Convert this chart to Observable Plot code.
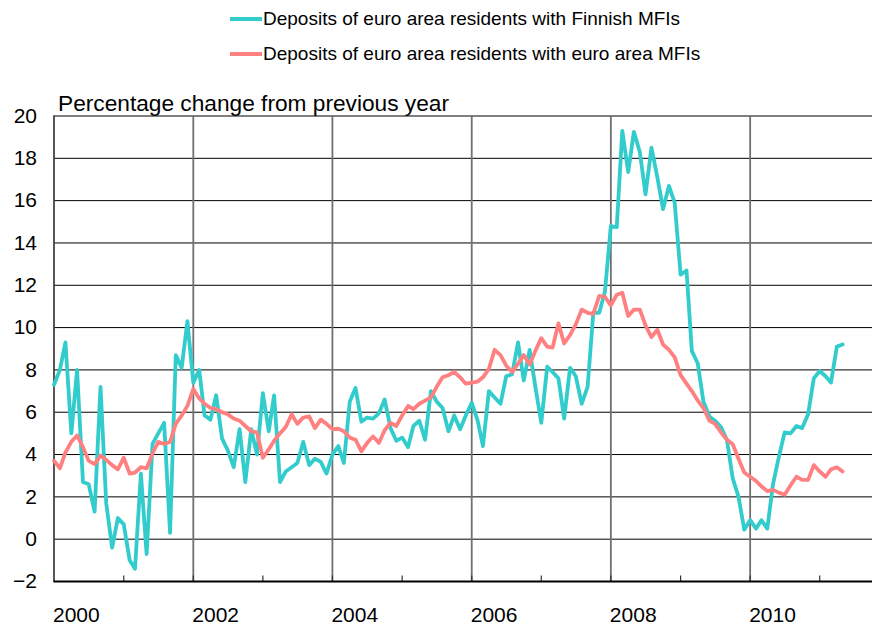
<!DOCTYPE html>
<html>
<head>
<meta charset="utf-8">
<script src="https://cdn.jsdelivr.net/npm/d3@7"></script>
<script src="https://cdn.jsdelivr.net/npm/@observablehq/plot@0.6"></script>
<style>
  body { margin: 0; background: #fff; font-family: "Liberation Sans", Arial, sans-serif; }
  #legend { position: relative; width: 872px; height: 88px; }
  .item { position: absolute; left: 230px; height: 22px; line-height: 22px; font-size: 19px; color: #000; white-space: nowrap; display: flex; align-items: center; }
  .sw { display: inline-block; width: 32px; height: 4px; margin-right: 1px; }
</style>
</head>
<body>
<div id="legend"></div>
<div id="chart"></div>
<script>
// Monthly series, starting January 2000
const seriesNames = [
  "Deposits of euro area residents with Finnish MFIs",
  "Deposits of euro area residents with euro area MFIs"
];
const seriesColors = ["#33CCCC", "#FF8080"];

const finnishMFIs = [
  7.3, 8.0, 9.3, 5.0, 8.0, 2.7, 2.6, 1.3, 7.2, 1.7, -0.4, 1.0,
  0.7, -1.0, -1.4, 3.1, -0.7, 4.5, 5.0, 5.5, 0.3, 8.7, 8.1, 10.3,
  7.4, 8.0, 5.85, 5.65, 6.8, 4.75, 4.2, 3.4, 5.2, 2.7, 5.2, 4.0,
  6.9, 5.1, 6.8, 2.7, 3.2, 3.4, 3.6, 4.6, 3.5, 3.8, 3.65, 3.1,
  4.0, 4.4, 3.6, 6.5, 7.15, 5.55, 5.75, 5.7, 5.95, 6.6, 5.25, 4.65,
  4.8, 4.35, 5.35, 5.6, 4.7, 7.0, 6.5, 6.2, 5.1, 5.85, 5.2, 5.85,
  6.45, 5.6, 4.4, 7.0, 6.7, 6.4, 7.7, 7.8, 9.3, 7.5, 8.95, 7.2,
  5.5, 8.15, 7.9, 7.6, 5.7, 8.1, 7.7, 6.4, 7.2, 10.7, 10.7, 11.7,
  14.8, 14.75, 19.3, 17.35, 19.25, 18.3, 16.3, 18.5, 17.1, 15.6, 16.7, 15.9,
  12.5, 12.7, 8.9, 8.3, 6.5, 5.8, 5.6, 5.3, 4.7, 2.9, 2.0, 0.45,
  0.9, 0.5, 0.9, 0.5, 2.6, 3.9, 5.05, 5.0, 5.35, 5.25, 5.9, 7.6,
  7.95, 7.7, 7.4, 9.1, 9.2
];

const euroAreaMFIs = [
  3.7, 3.35, 4.1, 4.6, 4.9, 4.35, 3.7, 3.55, 3.95, 3.75, 3.5, 3.3,
  3.85, 3.1, 3.15, 3.4, 3.35, 4.05, 4.6, 4.5, 4.6, 5.45, 5.85, 6.3,
  7.1, 6.65, 6.4, 6.2, 6.15, 6.0, 5.9, 5.7, 5.6, 5.35, 5.1, 5.05,
  3.85, 4.25, 4.65, 5.0, 5.3, 5.9, 5.45, 5.75, 5.8, 5.25, 5.65, 5.45,
  5.2, 5.22, 5.1, 4.8, 4.7, 4.15, 4.55, 4.85, 4.55, 5.15, 5.5, 5.35,
  5.85, 6.3, 6.15, 6.4, 6.55, 6.7, 7.2, 7.65, 7.75, 7.9, 7.65, 7.35,
  7.4, 7.45, 7.65, 8.05, 8.95, 8.7, 8.2, 7.9, 8.3, 8.7, 8.25, 8.9,
  9.5, 9.1, 9.05, 10.2, 9.25, 9.65, 10.15, 10.85, 10.7, 10.65, 11.5, 11.45,
  11.05, 11.55, 11.65, 10.55, 10.85, 10.85, 10.1, 9.55, 9.9, 9.2, 8.95, 8.6,
  7.75, 7.35, 7.0, 6.55, 6.2, 5.6, 5.45, 5.05, 4.7, 4.5, 3.8, 3.15,
  2.95, 2.75, 2.5, 2.27, 2.33, 2.2, 2.1, 2.55, 2.95, 2.8, 2.8, 3.5,
  3.2, 2.95, 3.3, 3.4, 3.2
];

const yTicks = [-2, 0, 2, 4, 6, 8, 10, 12, 14, 16, 18, 20];
const labelYears = [2000, 2002, 2004, 2006, 2008, 2010];
const tickYears = [2001, 2002, 2003, 2004, 2005, 2006, 2007, 2008, 2009, 2010, 2011];
const gridYears = [2002, 2004, 2006, 2008, 2010];
const yAxisTitle = "Percentage change from previous year";

const startDate = new Date(Date.UTC(2000, 0, 1));
const endDate = new Date(Date.UTC(2011, 9, 5));
const yr = y => new Date(Date.UTC(y, 0, 1));
const month = i => new Date(Date.UTC(2000, i, 1));

const rows = [
  ...finnishMFIs.map((v, i) => ({date: month(i), value: v, series: seriesNames[0]})),
  ...euroAreaMFIs.map((v, i) => ({date: month(i), value: v, series: seriesNames[1]}))
];

// Legend
const legend = document.getElementById("legend");
seriesNames.forEach((name, i) => {
  const d = document.createElement("div");
  d.className = "item";
  d.style.top = (8 + i * 35) + "px";
  const sw = document.createElement("span");
  sw.className = "sw";
  sw.style.background = seriesColors[i];
  d.appendChild(sw);
  d.appendChild(document.createTextNode(name));
  legend.appendChild(d);
});

const chart = Plot.plot({
  width: 872,
  height: 540,
  marginTop: 27.5,
  marginLeft: 53.5,
  marginRight: 0,
  marginBottom: 47,
  style: {fontFamily: "'Liberation Sans', Arial, sans-serif", fontSize: "21px", color: "#000", background: "#fff"},
  x: {type: "utc", domain: [startDate, endDate]},
  y: {domain: [-2, 20]},
  marks: [
    Plot.ruleY(yTicks, {stroke: "#000", strokeWidth: 1}),
    Plot.ruleX(gridYears.map(yr), {stroke: "#707070", strokeWidth: 1.8}),
    Plot.ruleX(tickYears.map(yr), {stroke: "#333", strokeWidth: 1.2, insetTop: 460}),
    Plot.ruleX([startDate], {stroke: "#444", strokeWidth: 1.8}),
    Plot.ruleY([-2], {stroke: "#000", strokeWidth: 1.8}),
    Plot.lineY(rows.filter(d => d.series === seriesNames[0]), {x: "date", y: "value", stroke: seriesColors[0], strokeWidth: 3.8}),
    Plot.lineY(rows.filter(d => d.series === seriesNames[1]), {x: "date", y: "value", stroke: seriesColors[1], strokeWidth: 3.8}),
    Plot.axisY(yTicks, {tickSize: 0, tickPadding: 17, fontSize: 21, label: null}),
    Plot.axisX(labelYears.map(yr), {tickSize: 0, tickPadding: 26, textAnchor: "start", dx: -1, fontSize: 21, label: null, tickFormat: d3.utcFormat("%Y")}),
    Plot.text([yAxisTitle], {frameAnchor: "top-left", textAnchor: "start", dx: 4, dy: -21, fontSize: 22.7, fill: "#000"})
  ]
});
document.getElementById("chart").appendChild(chart);
</script>
</body>
</html>
